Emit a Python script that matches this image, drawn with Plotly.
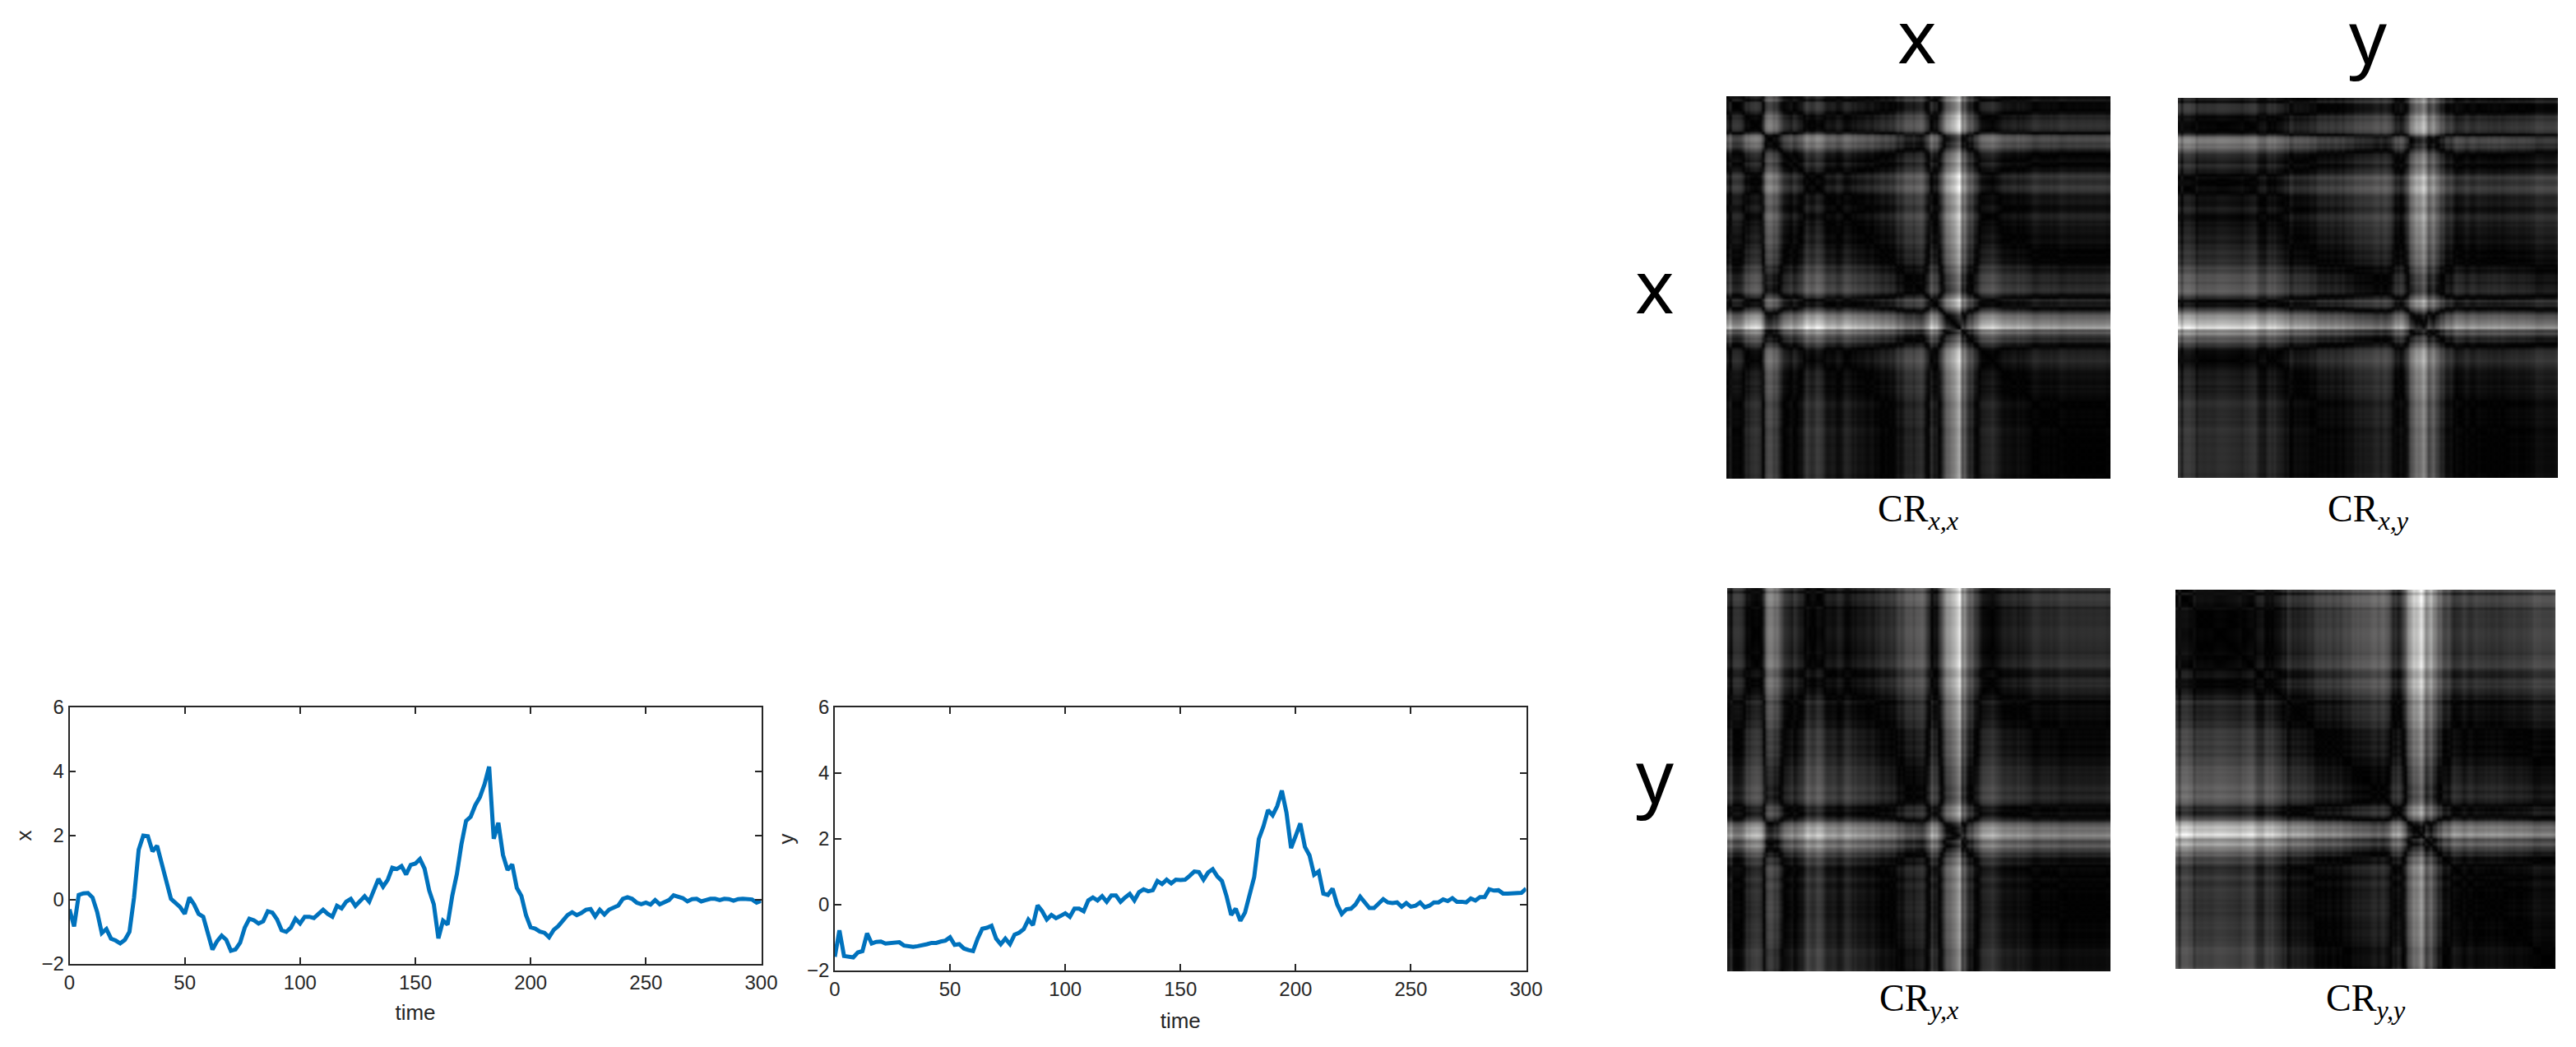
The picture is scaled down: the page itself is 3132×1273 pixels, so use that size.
import plotly.graph_objects as go

FIG_W = 3132
FIG_H = 1273

time = list(range(0, 301, 2))

x_values = [
    -0.30, -0.83, 0.15, 0.20, 0.21, 0.07, -0.38, -1.04, -0.91, -1.21,
    -1.27, -1.36, -1.25, -1.00, 0.07, 1.56, 2.00, 1.98, 1.51, 1.68,
    1.13, 0.58, 0.03, -0.10, -0.23, -0.44, 0.07, -0.14, -0.44, -0.53,
    -1.08, -1.55, -1.29, -1.12, -1.25, -1.59, -1.55, -1.34, -0.87, -0.59,
    -0.64, -0.74, -0.67, -0.36, -0.40, -0.61, -0.95, -1.00, -0.87, -0.59,
    -0.74, -0.53, -0.53, -0.57, -0.44, -0.31, -0.44, -0.53, -0.19, -0.27,
    -0.06, 0.03, -0.19, -0.06, 0.11, -0.06, 0.28, 0.65, 0.41, 0.62,
    1.00, 0.96, 1.05, 0.79, 1.09, 1.13, 1.27, 0.97, 0.29, -0.14,
    -1.20, -0.65, -0.77, 0.12, 0.80, 1.74, 2.46, 2.59, 2.95, 3.20,
    3.60, 4.15, 1.90, 2.40, 1.40, 0.93, 1.10, 0.37, 0.12, -0.48,
    -0.86, -0.90, -0.99, -1.03, -1.17, -0.94, -0.82, -0.65, -0.48, -0.39,
    -0.48, -0.41, -0.31, -0.29, -0.52, -0.31, -0.46, -0.31, -0.26, -0.18,
    0.03, 0.08, 0.03, -0.09, -0.14, -0.09, -0.15, -0.01, -0.14, -0.09,
    -0.01, 0.14, 0.08, 0.05, -0.05, 0.02, 0.03, -0.05, -0.01, 0.03,
    0.03, -0.01, 0.03, 0.02, -0.03, 0.02, 0.03, 0.02, 0.01, -0.09,
    -0.03,
]

y_values = [
    -1.58, -0.78, -1.56, -1.58, -1.60, -1.45, -1.41, -0.87, -1.18, -1.13,
    -1.12, -1.18, -1.16, -1.13, -1.14, -1.24, -1.27, -1.28, -1.26, -1.24,
    -1.20, -1.16, -1.16, -1.12, -1.09, -0.99, -1.22, -1.20, -1.33, -1.38,
    -1.41, -1.03, -0.73, -0.70, -0.64, -1.03, -1.20, -1.03, -1.20, -0.91,
    -0.85, -0.74, -0.45, -0.62, -0.02, -0.20, -0.45, -0.31, -0.41, -0.34,
    -0.26, -0.37, -0.12, -0.12, -0.20, 0.13, 0.22, 0.13, 0.26, 0.09,
    0.28, 0.28, 0.09, 0.22, 0.33, 0.13, 0.38, 0.47, 0.41, 0.44,
    0.72, 0.63, 0.76, 0.65, 0.76, 0.75, 0.76, 0.88, 1.01, 0.99,
    0.76, 0.98, 1.08, 0.86, 0.72, 0.26, -0.31, -0.12, -0.49, -0.24,
    0.34, 0.84, 2.00, 2.38, 2.88, 2.72, 3.00, 3.47, 2.80, 1.72,
    2.09, 2.47, 1.76, 1.50, 0.91, 1.01, 0.34, 0.30, 0.49, 0.01,
    -0.28, -0.14, -0.12, 0.01, 0.24, 0.09, -0.10, -0.10, 0.05, 0.17,
    0.07, 0.05, 0.07, -0.06, 0.05, -0.06, -0.03, 0.07, -0.08, -0.03,
    0.07, 0.07, 0.16, 0.11, 0.20, 0.09, 0.09, 0.07, 0.19, 0.13,
    0.23, 0.23, 0.47, 0.43, 0.44, 0.34, 0.34, 0.34, 0.33, 0.36,
    0.49,
]

x_ticks = [0, 50, 100, 150, 200, 250, 300]
y_ticks = [-2, 0, 2, 4, 6]
row_labels = ['x', 'y']
col_labels = ['x', 'y']


def px_domain(start, end, total):
    return [start / total, end / total]


# cross recurrence matrix: distance between every pair of samples
def cross_recurrence(rows, cols):
    return [[abs(r - c) for c in cols] for r in rows]


fig = go.Figure()

# Line plots: (xaxis name, series, label, left, right, top, bottom, label standoffs)
line_plots = [
    ('x', x_values, 'x', 84.5, 925.5, 860, 1172, 15, 4),
    ('x2', y_values, 'y', 1015, 1855.5, 860, 1180, 17, 8),
]
for name, series, label, left, right, top, bottom, x_standoff, y_standoff in line_plots:
    fig.add_trace(go.Scatter(
        x=time, y=series, mode='lines', xaxis=name, yaxis=name.replace('x', 'y'),
        line=dict(color='#0072BD', width=5), showlegend=False,
    ))
    axis_style = dict(
        showgrid=False, zeroline=False, showline=True, mirror='ticks',
        linecolor='#262626', linewidth=1.5, ticks='inside', ticklen=8,
        tickwidth=1.5, tickcolor='#262626', automargin=False,
        tickfont=dict(family='Liberation Sans', size=24, color='#262626'),
    )
    fig.update_layout({
        name.replace('x', 'xaxis'): dict(
            domain=px_domain(left, right, FIG_W), anchor=name.replace('x', 'y'),
            range=[0, 300], tickvals=x_ticks,
            title=dict(text='time', font=dict(family='Liberation Sans', size=26, color='#262626'), standoff=x_standoff),
            **axis_style,
        ),
        name.replace('x', 'yaxis'): dict(
            domain=[1 - bottom / FIG_H, 1 - top / FIG_H], anchor=name,
            range=[-2, 6], tickvals=y_ticks,
            title=dict(text=label, font=dict(family='Liberation Sans', size=26, color='#262626'), standoff=y_standoff),
            **axis_style,
        ),
    })

# Heatmaps: (rows, cols, label, left, right, top, bottom, caption y)
heatmaps = [
    (x_values, x_values, 'x,x', 2099, 2566, 117, 582, 622),
    (x_values, y_values, 'x,y', 2648, 3110, 119, 581, 622),
    (y_values, x_values, 'y,x', 2100, 2566, 715, 1181, 1217),
    (y_values, y_values, 'y,y', 2645, 3107, 717, 1178, 1217),
]
for k, (rows, cols, label, left, right, top, bottom, caption_y) in enumerate(heatmaps):
    xname = 'x' + str(k + 3)
    yname = 'y' + str(k + 3)
    fig.add_trace(go.Heatmap(
        z=cross_recurrence(rows, cols), xaxis=xname, yaxis=yname,
        colorscale='gray', zsmooth='best', showscale=False, zmin=0,
    ))
    fig.update_layout({
        xname.replace('x', 'xaxis'): dict(
            domain=px_domain(left, right, FIG_W), anchor=yname, visible=False, automargin=False,
        ),
        yname.replace('y', 'yaxis'): dict(
            domain=[1 - bottom / FIG_H, 1 - top / FIG_H], anchor=xname,
            visible=False, autorange='reversed', automargin=False,
        ),
    })
    fig.add_annotation(
        text='CR<sub><i>' + label + '</i></sub>',
        x=(left + right) / 2 / FIG_W, y=1 - caption_y / FIG_H,
        xref='paper', yref='paper', showarrow=False, xanchor='center', yanchor='middle',
        font=dict(family='Liberation Serif', size=46, color='black'),
    )

# big column and row headings
for label, cx in zip(col_labels, [2331, 2879]):
    fig.add_annotation(
        text=label, x=cx / FIG_W, y=1 - 42 / FIG_H, xref='paper', yref='paper',
        showarrow=False, xanchor='center', yanchor='middle',
        font=dict(family='Noto Sans', size=90, color='black'),
    )
for label, cy in zip(row_labels, [346, 941]):
    fig.add_annotation(
        text=label, x=2012 / FIG_W, y=1 - cy / FIG_H, xref='paper', yref='paper',
        showarrow=False, xanchor='center', yanchor='middle',
        font=dict(family='Noto Sans', size=90, color='black'),
    )

fig.update_layout(
    width=FIG_W,
    height=FIG_H,
    margin=dict(l=0, r=0, t=0, b=0),
    plot_bgcolor='white',
    paper_bgcolor='white',
)

# the page's default body margin would push the figure off by 8 px
fig.write_html(
    "out.html",
    config=dict(displayModeBar=False),
    post_script="document.body.style.margin = '0';",
)
